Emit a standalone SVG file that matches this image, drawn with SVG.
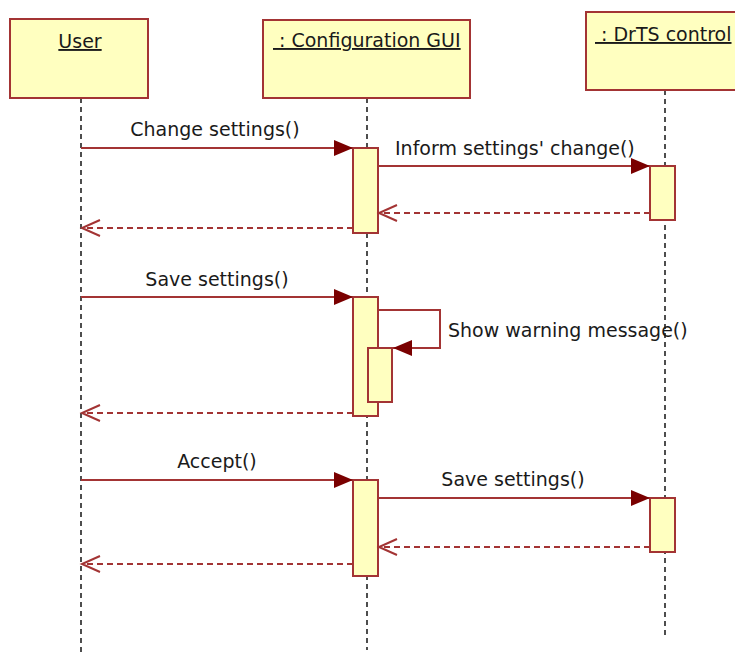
<svg xmlns="http://www.w3.org/2000/svg" width="735" height="652" viewBox="0 0 735 652">
<style>
.box{fill:#ffffc0;stroke:#a33434;stroke-width:2}
.act{fill:#ffffc0;stroke:#a33434;stroke-width:2}
.life{stroke:#222;stroke-width:1.6;stroke-dasharray:5 4;fill:none}
.msg{stroke:#a33434;stroke-width:2;fill:none}
.ret{stroke:#a33434;stroke-width:2;fill:none;stroke-dasharray:6 4}
text{font-family:"DejaVu Sans","Liberation Sans",sans-serif;font-size:19px;fill:#1a1a1a}
.hdr{text-decoration:underline}
</style>
<defs>
<marker id="fill" markerUnits="userSpaceOnUse" markerWidth="20" markerHeight="18" refX="19" refY="8" orient="auto">
<path d="M0,0 L19,8 L0,16 z" fill="#7a0000"/>
</marker>
<marker id="open" markerUnits="userSpaceOnUse" markerWidth="22" markerHeight="20" refX="19" refY="9" orient="auto">
<path d="M1,1 L19,9 L1,17" fill="none" stroke="#a33434" stroke-width="2"/>
</marker>
</defs>
<rect width="735" height="652" fill="#fff"/>
<g id="user">
<line class="life" x1="81" y1="98" x2="81" y2="652"/>
<rect class="box" x="10" y="19" width="138" height="79"/>
<text class="hdr" x="80" y="48" text-anchor="middle">User</text>
</g>
<g id="gui">
<line class="life" x1="367" y1="98" x2="367" y2="650"/>
<rect class="box" x="263" y="20" width="207" height="78"/>
<text class="hdr" x="273" y="47" xml:space="preserve"> : Configuration GUI</text>
<rect class="act" x="353" y="148" width="25" height="85"/>
<rect class="act" x="353" y="297" width="25" height="119"/>
<rect class="act" x="368" y="348" width="24" height="54"/>
<rect class="act" x="353" y="480" width="25" height="96"/>
</g>
<g id="drts">
<line class="life" x1="665" y1="90" x2="665" y2="635"/>
<rect class="box" x="586" y="12" width="160" height="78"/>
<text class="hdr" x="595" y="41" xml:space="preserve"> : DrTS control</text>
<rect class="act" x="650" y="166" width="25" height="54"/>
<rect class="act" x="650" y="498" width="25" height="54"/>
</g>
<g id="connectors">
<line class="msg" x1="81" y1="148" x2="353" y2="148" marker-end="url(#fill)"/>
<text x="215" y="136" text-anchor="middle">Change settings()</text>
<line class="msg" x1="378" y1="166" x2="650" y2="166" marker-end="url(#fill)"/>
<text x="395" y="155">Inform settings' change()</text>
<line class="ret" x1="650" y1="213" x2="379" y2="213" marker-end="url(#open)"/>
<line class="ret" x1="353" y1="228" x2="82" y2="228" marker-end="url(#open)"/>
<line class="msg" x1="81" y1="297" x2="353" y2="297" marker-end="url(#fill)"/>
<text x="217" y="286" text-anchor="middle">Save settings()</text>
<path class="msg" d="M378,310 H440 V348 H393" marker-end="url(#fill)"/>
<text x="448" y="337">Show warning message()</text>
<line class="ret" x1="353" y1="413" x2="82" y2="413" marker-end="url(#open)"/>
<line class="msg" x1="81" y1="480" x2="353" y2="480" marker-end="url(#fill)"/>
<text x="217" y="468" text-anchor="middle">Accept()</text>
<line class="msg" x1="378" y1="498" x2="650" y2="498" marker-end="url(#fill)"/>
<text x="513" y="486" text-anchor="middle">Save settings()</text>
<line class="ret" x1="650" y1="547" x2="379" y2="547" marker-end="url(#open)"/>
<line class="ret" x1="353" y1="564" x2="82" y2="564" marker-end="url(#open)"/>
</g>
</svg>
